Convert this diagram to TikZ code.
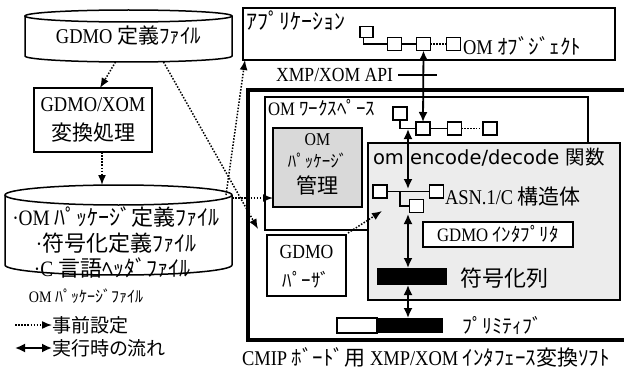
\documentclass[tikz,border=0pt]{standalone}
\usepackage{fontspec}
\setmainfont{Liberation Serif}[FakeStretch=0.88]
\newfontfamily\jp{Noto Sans CJK JP}
\newfontfamily\sansenc{DejaVu Sans}
\usetikzlibrary{arrows.meta,calc}
\newcommand\setfs[1]{\fontsize{#1}{#1}\selectfont}
\tikzset{
 every node/.style={inner sep=0pt, outer sep=0pt},
 boxln/.style={draw, line width=1.5pt},
 sq/.style={draw, fill=white, line width=1.4pt, minimum width=14pt, minimum height=13pt},
 pre/.style={line width=1.5pt, dash pattern=on 1.5pt off 1.6pt, -{Latex[length=10pt,width=8pt]}},
 flow/.style={line width=1.8pt, {Latex[length=10pt,width=9pt]}-{Latex[length=10pt,width=9pt]}},
 conn/.style={line width=1.4pt},
 dotconn/.style={line width=1.4pt, dash pattern=on 1.4pt off 1.5pt},
}
\begin{document}
\begin{tikzpicture}[x=1pt,y=-1pt]
\useasboundingbox (0,0) rectangle (624,369);
\clip (0,0) rectangle (624,369);
\fill[white] (0,0) rectangle (624,369);

% ---------- left side ----------
\node[minimum width=207pt, minimum height=40pt] (gdmo) at (128.5,36) {\setfs{21}GDMO {\jp 定義ﾌｧｲﾙ}};
\draw[boxln] (gdmo.north west) -- (gdmo.south west) arc[start angle=180, end angle=360, x radius=103.5pt, y radius=6pt] -- (gdmo.north east);
\draw[boxln] (gdmo.north) ellipse[x radius=103.5pt, y radius=6pt];

\node[boxln, minimum width=118pt, minimum height=64pt] (conv) at (93,120) {};
\node (conv1) at (93,105) {\setfs{21}GDMO/XOM};
\node (conv2) at (93,133) {\jp\setfs{21}変換処理};

\node[minimum width=227pt, minimum height=70pt] (pkg) at (118.5,230) {};
\draw[boxln] (pkg.north west) -- (pkg.south west) arc[start angle=180, end angle=360, x radius=113.5pt, y radius=10pt] -- (pkg.north east);
\draw[boxln] (pkg.north) ellipse[x radius=113.5pt, y radius=10pt];
\node (pkgt1) at (116,217) {\setfs{22}·OM {\jp ﾊﾟｯｹｰｼﾞ定義ﾌｧｲﾙ}};
\node (pkgt2) at (116,243) {\setfs{22}·{\jp 符号化定義ﾌｧｲﾙ}};
\node (pkgt3) at (112,268) {\setfs{22}·C {\jp 言語ﾍｯﾀﾞﾌｧｲﾙ}};
\node (pkglab) at (86,296) {\setfs{16}OM {\jp ﾊﾟｯｹｰｼﾞﾌｧｲﾙ}};

% legend
\node[anchor=west] (lg1) at (52,325) {\jp\setfs{19}事前設定};
\draw[pre] ([xshift=-37pt]lg1.west) -- (lg1.west);
\node[anchor=west] (lg2) at (52,348) {\jp\setfs{19}実行時の流れ};
\draw[flow] ([xshift=-37pt]lg2.west) -- (lg2.west);

% ---------- right side ----------
\node[draw, line width=3.5pt, minimum width=392pt, minimum height=250pt] (cmip) at (444,215) {};
\node (cap) at (426,357) {\setfs{21}CMIP {\jp ﾎﾞｰﾄﾞ用} XMP/XOM {\jp ｲﾝﾀﾌｪｰｽ変換ｿﾌﾄ}};

% application
\node[boxln, minimum width=372pt, minimum height=52pt] (app) at (429,34) {};
\node[anchor=west] (apptxt) at (246,21) {\jp\setfs{22}ｱﾌﾟﾘｹｰｼｮﾝ};
\node[sq, minimum width=13pt, minimum height=11pt] (s1) at (366.5,32) {};
\node[sq] (s2) at (394.5,44) {};
\node[sq] (s3) at (423.5,44) {};
\node[sq] (s4) at (453.5,44) {};
\draw[conn] ([xshift=-3pt]s1.south) |- (s2.west);
\draw[conn] (s2) -- (s3);
\draw[dotconn] (s3) -- (s4);
\node[anchor=west] (objtxt) at (463,46) {\setfs{21}OM {\jp ｵﾌﾞｼﾞｪｸﾄ}};

% API
\node[anchor=east] (api) at (393,75) {\setfs{20}XMP/XOM API};
\coordinate (apiL) at (398,75);
\coordinate (apiR) at (437,75);
\draw[conn] (apiL) -- (apiR);

% workspace
\node[boxln, fill=white, minimum width=323pt, minimum height=133pt] (ws) at (426.5,163.5) {};
\node[anchor=west] (wstxt) at (268,108) {\setfs{19}OM {\jp ﾜｰｸｽﾍﾟｰｽ}};

% encode/decode
\node[boxln, fill=gray!15, minimum width=252pt, minimum height=157pt] (enc) at (494,221.5) {};
\node[anchor=west] (enctxt) at (373,157) {\sansenc\setfs{19.5}om encode/decode {\jp 関数}};

% workspace chain
\node[sq] (w1) at (400,113.5) {};
\node[sq] (w2) at (423,128.5) {};
\node[sq] (w3) at (454.5,128.5) {};
\node[sq] (w4) at (490,128.5) {};
\draw[conn] (w1.south) |- (w2.west);
\draw[conn] (w2) -- (w3);
\draw[dotconn] (w3) -- (w4);

% package management
\node[boxln, fill=gray!30, minimum width=89pt, minimum height=79pt] (pm) at (317.5,167.5) {};
\node (pm1) at (317.5,140) {\setfs{18}OM};
\node (pm2) at (317.5,161) {\jp\setfs{17}ﾊﾟｯｹｰｼﾞ};
\node (pm3) at (317.5,185) {\jp\setfs{21}管理};

% parser
\node[boxln, fill=white, minimum width=79pt, minimum height=61pt] (pa) at (306.5,265.5) {};
\node (pa1) at (306.5,252) {\setfs{20}GDMO};
\node (pa2) at (306.5,280) {\jp\setfs{19}ﾊﾟｰｻﾞ};

% ASN.1 chain
\node[sq] (a1) at (380,191.5) {};
\node[sq] (a3) at (436.5,191.5) {};
\node[sq] (a2) at (416.5,206) {};
\draw[conn] (a1.east) -- (a3.west);
\draw[conn] ($(a1.east)!0.31!(a3.west)$) |- (a2.west);
\node[anchor=west] (asn) at (445,197) {\setfs{21}ASN.1/C {\jp 構造体}};

% interpreter
\node[boxln, fill=white, minimum width=150pt, minimum height=25pt] (gi) at (498,234.5) {\setfs{19}GDMO {\jp ｲﾝﾀﾌﾟﾘﾀ}};

% encoded string and primitive
\node[fill=black, minimum width=70pt, minimum height=17pt] (bar) at (412,276.5) {};
\node[anchor=west] (bartxt) at (460,278) {\jp\setfs{22}符号化列};
\node[draw, line width=1.4pt, fill=white, minimum width=40pt, minimum height=15pt] (pw) at (357,325.5) {};
\node[fill=black, minimum width=66pt, minimum height=15pt] (pb) at (410,325.5) {};
\node[anchor=west] (pritxt) at (462,325) {\jp\setfs{20}ﾌﾟﾘﾐﾃｨﾌﾞ};

% run-time flows
\draw[flow] (s3.south) -- (w2.north);
\coordinate (j1) at (408,129);
\coordinate (j2) at (408,189);
\coordinate (j3) at (408,214);
\draw[flow] (j1) -- (j2);
\draw[flow] (j3) -- (j3 |- bar.north);
\draw[flow] (j3 |- bar.south) -- (j3 |- pb.north);

% pre-setting flows
\draw[pre] ([xshift=-13pt,yshift=-6pt]gdmo.south) -- ([xshift=7pt]conv.north);
\draw[pre] ([xshift=9pt]conv.south) -- ([xshift=-16.5pt,yshift=10pt]pkg.north);
\draw[pre] ([xshift=35pt,yshift=-6pt]gdmo.south) -- ([xshift=-9pt,yshift=6pt]pa.north west);
\draw[pre] ([xshift=-6pt]pkg.north east) -- ([xshift=2pt]app.south west);
\coordinate (pmD) at ([yshift=-30.5pt]pm.west);
\draw[pre] (pkg.east |- pmD) -- (pmD);
\draw[pre] ([xshift=2pt,yshift=2pt]pa.north east) -- ([xshift=14pt,yshift=-68pt]enc.north west);
\end{tikzpicture}
\end{document}
